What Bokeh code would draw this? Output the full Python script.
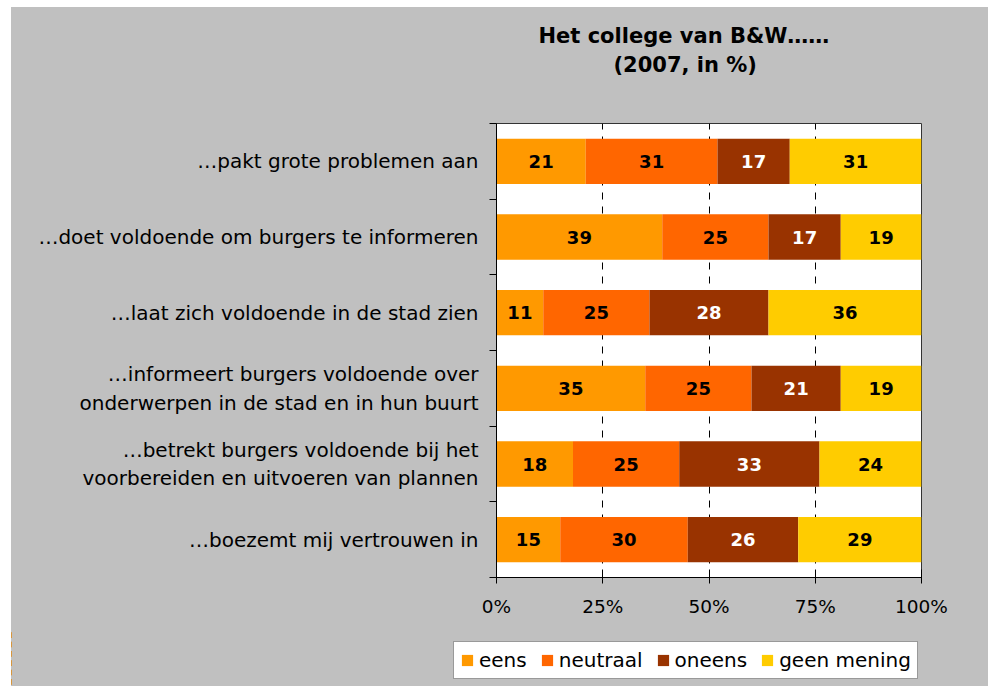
from bokeh.plotting import figure
from bokeh.models import (Range1d, FixedTicker, Title, Legend, LegendItem, ColumnDataSource,
                          PrintfTickFormatter, Spacer, LinearAxis)
from bokeh.layouts import column, row
from bokeh.core.properties import value
from bokeh.embed import file_html
from bokeh.resources import INLINE

categories = [
    "…pakt grote problemen aan",
    "…doet voldoende om burgers te informeren",
    "…laat zich voldoende in de stad zien",
    "…informeert burgers voldoende over\nonderwerpen in de stad en in hun buurt",
    "…betrekt burgers voldoende bij het\nvoorbereiden en uitvoeren van plannen",
    "…boezemt mij vertrouwen in",
]
series = ["eens", "neutraal", "oneens", "geen mening"]
eens = [21, 39, 11, 35, 18, 15]
neutraal = [31, 25, 25, 25, 25, 30]
oneens = [17, 17, 28, 21, 33, 26]
geen_mening = [31, 19, 36, 19, 24, 29]
x_ticks = [0, 25, 50, 75, 100]
title_line1 = "Het college van B&W……"
title_line2 = "(2007, in %)"

colors = ["#FF9900", "#FF6600", "#993300", "#FFCC00"]
label_colors = ["black", "black", "white", "black"]
FONT = "DejaVu Sans"
BG = "#C0C0C0"

values_by_series = [eens, neutraal, oneens, geen_mening]
n = len(categories)
ypos = [n - i - 0.5 for i in range(n)]

data = {"y": ypos}
for s, vals in zip(series, values_by_series):
    data[s] = vals
src = ColumnDataSource(data)

p = figure(width=977, height=623, x_range=Range1d(0, 100), y_range=Range1d(0, n),
           output_backend="svg", toolbar_location=None,
           min_border_left=485, min_border_right=67, min_border_top=116, min_border_bottom=53)
p.title.visible = False
p.border_fill_color = BG
p.background_fill_color = "white"
p.outline_line_color = "#333333"
p.outline_line_width = 1

renderers = p.hbar_stack(series, y="y", height=0.6, color=colors, line_color=None, source=src)

# value labels
cum = [0] * n
for j, vals in enumerate(values_by_series):
    centers = [c + v / 2 for c, v in zip(cum, vals)]
    cum = [c + v for c, v in zip(cum, vals)]
    p.text(x=centers, y=ypos, text=[str(v) for v in vals], text_align="center",
           text_baseline="middle", text_font=value(FONT), text_font_style="bold",
           text_font_size="18px", text_color=label_colors[j])

# grid
p.ygrid.visible = False
p.xgrid.ticker = FixedTicker(ticks=x_ticks[1:])
p.xgrid.grid_line_color = "black"
p.xgrid.grid_line_dash = "7 7"
p.xgrid.grid_line_width = 1
p.xgrid.level = "underlay"

# x axis
xa = p.xaxis[0]
xa.ticker = FixedTicker(ticks=x_ticks)
xa.formatter = PrintfTickFormatter(format="%d%%")
xa.major_tick_in = 8
xa.major_tick_out = 6
xa.minor_tick_line_color = None
xa.axis_line_color = "black"
xa.major_tick_line_color = "black"
xa.major_label_text_font = FONT
xa.major_label_text_font_size = "18.5px"
xa.major_label_text_color = "black"
xa.major_label_standoff = 12

# y axis
ya = p.yaxis[0]
ya.ticker = FixedTicker(ticks=ypos, minor_ticks=list(range(0, n + 1)))
ya.major_label_overrides = {y: c for y, c in zip(ypos, categories)}
ya.major_tick_in = 0
ya.major_tick_out = 0
ya.minor_tick_in = 0
ya.minor_tick_out = 7
ya.minor_tick_line_color = "black"
ya.axis_line_color = "black"
ya.major_label_text_font = FONT
ya.major_label_text_font_size = "20px"
ya.major_label_text_color = "black"
ya.major_label_standoff = 11

# invisible axis used only to leave room between the frame and the title
gap = LinearAxis(ticker=FixedTicker(ticks=[50]), major_label_overrides={50: ""},
                 axis_line_color=None, major_tick_line_color=None, minor_tick_line_color=None,
                 major_tick_in=0, major_tick_out=47, minor_tick_out=0,
                 major_label_standoff=0, major_label_text_font_size="0px")
p.add_layout(gap, "above")
t2 = Title(text=title_line2, align="left", offset=117, standoff=0,
           text_font=FONT, text_font_size="21px", text_font_style="bold", text_color="black")
t1 = Title(text=title_line1, align="left", offset=42, standoff=6,
           text_font=FONT, text_font_size="21px", text_font_style="bold", text_color="black")
p.add_layout(t2, "above")
p.add_layout(t1, "above")

# legend strip (separate figure so the legend can sit outside the plot area);
# its bars lie outside the visible x range, only the legend swatches show
lp = figure(width=977, height=56, x_range=Range1d(1000, 1001), y_range=Range1d(0, n),
            x_axis_type=None, y_axis_type=None, output_backend="svg", toolbar_location=None,
            min_border=0)
lp.title.visible = False
lp.border_fill_color = BG
lp.background_fill_color = BG
lp.outline_line_color = None
lp.grid.visible = False
for fig in (p, lp):
    try:
        fig.frame_align = False
    except Exception:
        pass
lrs = lp.hbar_stack(series, y="y", height=0.6, color=colors, line_color=None, source=src)
legend = Legend(items=[LegendItem(label=s, renderers=[r]) for s, r in zip(series, lrs)],
                orientation="horizontal", location=(442, 7),
                background_fill_color="white", background_fill_alpha=1,
                border_line_color="#333333", border_line_width=1,
                label_text_font=FONT, label_text_font_size="20px", label_text_color="black",
                glyph_width=14, glyph_height=14, label_standoff=5, spacing=13,
                padding=6, margin=0)
lp.add_layout(legend, "center")

inner = column(p, lp, spacing=0, styles={"background-color": BG})
layout = column(Spacer(height=7), row(Spacer(width=11), inner, spacing=0), spacing=0)
open("out.html", "w").write(file_html(layout, INLINE))
